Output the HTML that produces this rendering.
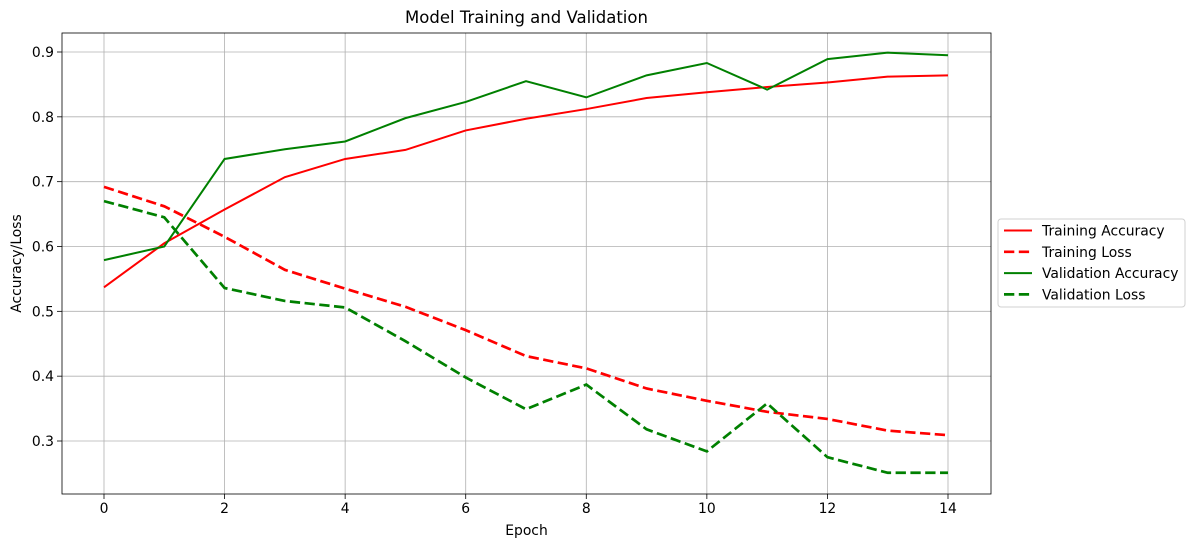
<!DOCTYPE html>
<html><head><meta charset="utf-8"><style>
body{margin:0;background:#fff;}
svg{display:block;font-family:"DejaVu Sans","Liberation Sans",sans-serif;}
</style></head><body>
<svg id="chart" width="1194" height="547" viewBox="0 0 1194 547"></svg>
<script>
const epochs=[0,1,2,3,4,5,6,7,8,9,10,11,12,13,14];
const trainAcc=[0.537,0.605,0.657,0.707,0.735,0.749,0.779,0.797,0.812,0.829,0.838,0.846,0.853,0.862,0.864];
const trainLoss=[0.692,0.662,0.615,0.564,0.535,0.507,0.471,0.431,0.412,0.381,0.362,0.345,0.334,0.316,0.309];
const valAcc=[0.579,0.600,0.735,0.750,0.762,0.798,0.823,0.855,0.830,0.864,0.883,0.842,0.889,0.899,0.895];
const valLoss=[0.670,0.645,0.536,0.516,0.506,0.454,0.398,0.349,0.387,0.318,0.284,0.358,0.275,0.251,0.251];
const xTicks=[0,2,4,6,8,10,12,14];
const yTicks=[0.3,0.4,0.5,0.6,0.7,0.8,0.9];
const seriesNames=["Training Accuracy","Training Loss","Validation Accuracy","Validation Loss"];

const NS="http://www.w3.org/2000/svg";
const svg=document.getElementById('chart');
const L=62,R=991,T=33,B=494;
const x=v=>104+(v-0)*(948-104)/14;
const y=v=>52+(0.9-v)*(441-52)/0.6;
function mk(tag,attrs,parent){const e=document.createElementNS(NS,tag);for(const k in attrs)e.setAttribute(k,attrs[k]);(parent||svg).appendChild(e);return e;}
const grid=mk('g',{});


xTicks.forEach(t=>{mk('line',{x1:x(t),x2:x(t),y1:T,y2:B,stroke:'#b0b0b0','stroke-width':0.8},grid);
 mk('line',{x1:x(t),x2:x(t),y1:B,y2:B+5,stroke:'#000','stroke-width':0.8});
 const tx=mk('text',{x:x(t),y:B+19,'text-anchor':'middle','font-size':13.9});tx.textContent=t;
 
 });
yTicks.forEach(t=>{mk('line',{x1:L,x2:R,y1:y(t),y2:y(t),stroke:'#b0b0b0','stroke-width':0.8},grid);
 mk('line',{x1:L-5,x2:L,y1:y(t),y2:y(t),stroke:'#000','stroke-width':0.8});
 const tx=mk('text',{x:L-8,y:y(t)+5,'text-anchor':'end','font-size':13.9});tx.textContent=t.toFixed(1);
 
 });
const styles=[['red',2,''],['red',2.7,'10.3,4.5'],['green',2,''],['green',2.7,'10.3,4.5']];
[trainAcc,trainLoss,valAcc,valLoss].forEach((s,i)=>{
 const p=mk('polyline',{points:s.map((v,j)=>x(epochs[j])+','+y(v)).join(' '),fill:'none',stroke:styles[i][0],'stroke-width':styles[i][1],'stroke-dasharray':styles[i][2]});
 
 
});
const frame=mk('rect',{x:L,y:T,width:R-L,height:B-T,fill:'none',stroke:'#000','stroke-width':0.8});


const title=mk('text',{x:(L+R)/2,y:23,'text-anchor':'middle','font-size':16.5});title.textContent='Model Training and Validation';


const xt=mk('text',{x:(L+R)/2,y:535,'text-anchor':'middle','font-size':13.9});xt.textContent='Epoch';


const yt=mk('text',{x:21,y:(T+B)/2,'text-anchor':'middle','font-size':13.9,transform:'rotate(-90 21 '+((T+B)/2)+')'});yt.textContent='Accuracy/Loss';


const lg=mk('g',{});


mk('rect',{x:998,y:219,width:187,height:88,rx:3,fill:'#fff',stroke:'#d0d0d0','stroke-width':1},lg);
seriesNames.forEach((n,i)=>{const yy=230.5+i*21.3;
 mk('line',{x1:1004,x2:1032,y1:yy,y2:yy,stroke:styles[i][0],'stroke-width':styles[i][1],'stroke-dasharray':styles[i][2]},lg);
 const t=mk('text',{x:1042,y:yy+5,'font-size':13.9},lg);t.textContent=n;
 
 });
</script>
</body></html>
